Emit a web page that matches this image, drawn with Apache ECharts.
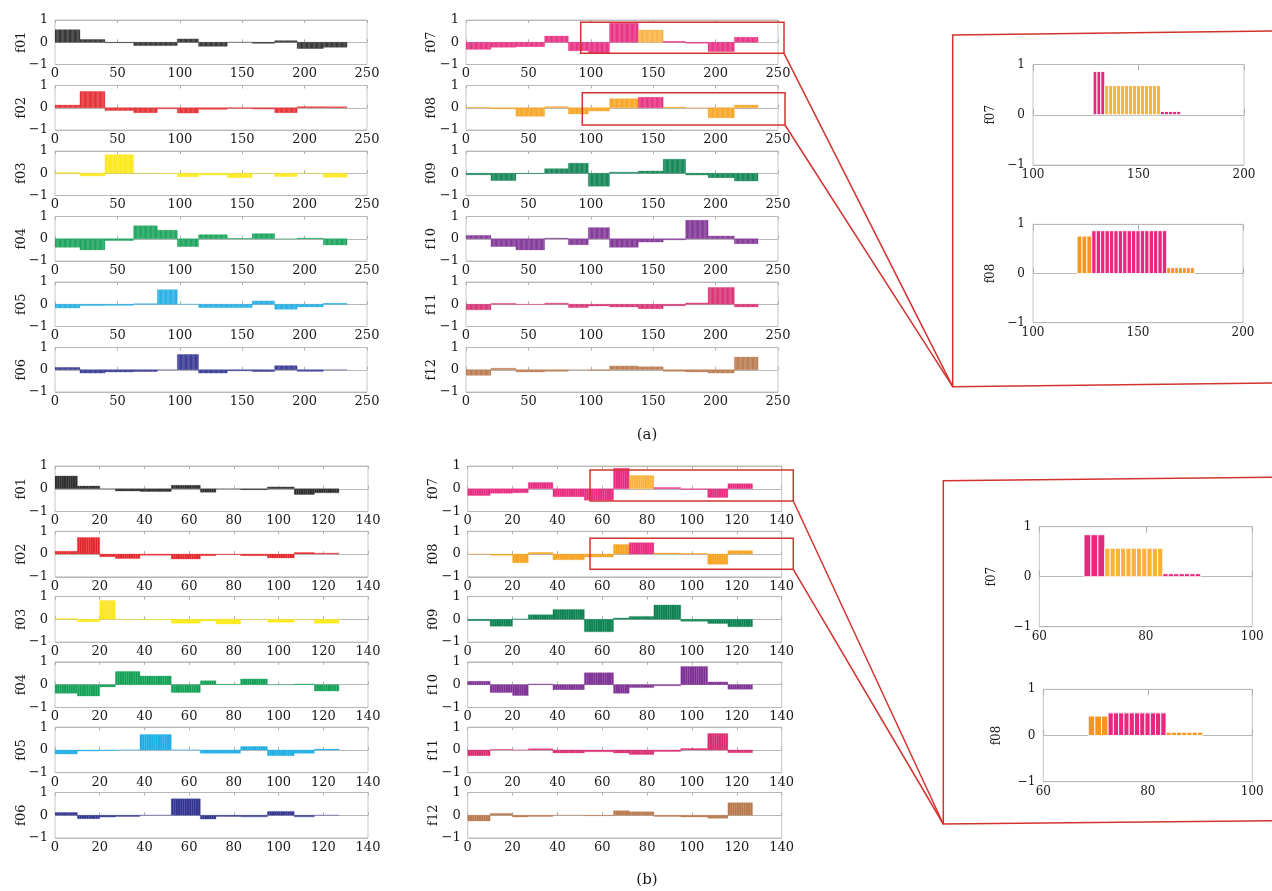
<!DOCTYPE html>
<html><head><meta charset="utf-8">
<script src="https://cdn.jsdelivr.net/npm/echarts@6/dist/echarts.min.js"></script>
<style>html,body{margin:0;padding:0;background:#fff}#c{width:1272px;height:891px}</style>
</head><body><div id="c"></div>
<script>
// ---------------- DATA ----------------
const featureNames = ['f01','f02','f03','f04','f05','f06','f07','f08','f09','f10','f11','f12'];
// block (segment) boundaries along the sample index
const blocksA = [0, 20, 40, 63, 82, 98, 115, 138, 158, 176, 194, 215, 234];
const blocksB = [0, 10, 20, 27, 38, 52, 65, 72, 83, 95, 107, 116, 127];
const ticksA = {min: 0, max: 250, interval: 50};
const ticksB = {min: 0, max: 140, interval: 20};
const yTicks = {min: -1, max: 1, interval: 1};

// panel (a): value of each feature within each block
const a_f01 = [0.56, 0.12, -0.02, -0.15, -0.15, 0.15, -0.18, 0.0, -0.05, 0.07, -0.28, -0.22];
const a_f02 = [0.12, 0.73, -0.12, -0.22, -0.05, -0.24, -0.07, -0.02, -0.06, -0.22, 0.05, 0.04];
const a_f03 = [0.03, -0.12, 0.83, 0.0, -0.01, -0.16, -0.08, -0.2, 0.0, -0.15, 0.0, -0.18];
const a_f04 = [-0.38, -0.5, -0.08, 0.58, 0.38, -0.35, 0.18, 0.02, 0.23, 0.0, 0.03, -0.28];
const a_f05 = [-0.17, -0.06, -0.05, 0.02, 0.65, 0.0, -0.15, -0.15, 0.15, -0.22, -0.12, 0.04];
const a_f06 = [0.1, -0.15, -0.1, -0.08, 0.0, 0.68, -0.15, -0.05, -0.08, 0.18, -0.07, 0.0];
const a_f07 = [-0.32, -0.22, -0.2, 0.28, -0.38, -0.5, 0.85, 0.55, 0.04, -0.04, -0.42, 0.22];
const a_f08 = [0.02, -0.05, -0.38, 0.05, -0.28, -0.15, 0.4, 0.47, 0.03, 0.0, -0.45, 0.12];
const a_f09 = [-0.07, -0.33, -0.02, 0.2, 0.45, -0.58, 0.05, 0.1, 0.63, -0.08, -0.2, -0.35];
const a_f10 = [0.15, -0.35, -0.5, 0.03, -0.27, 0.5, -0.38, -0.15, -0.05, 0.83, 0.12, -0.22];
const a_f11 = [-0.25, 0.03, -0.01, 0.05, -0.15, -0.08, -0.12, -0.2, -0.07, 0.06, 0.75, -0.12];
const a_f12 = [-0.25, 0.07, -0.1, -0.07, 0.0, -0.02, 0.17, 0.13, -0.07, -0.1, -0.15, 0.57];

// panel (b)
const b_f01 = [0.56, 0.12, 0.0, -0.1, -0.12, 0.15, -0.15, 0.0, -0.04, 0.08, -0.25, -0.18];
const b_f02 = [0.12, 0.73, -0.12, -0.2, -0.05, -0.22, -0.07, -0.02, -0.07, -0.17, 0.07, 0.04];
const b_f03 = [0.04, -0.1, 0.83, 0.0, -0.02, -0.17, -0.07, -0.2, 0.0, -0.13, 0.0, -0.17];
const b_f04 = [-0.38, -0.5, -0.1, 0.58, 0.38, -0.35, 0.17, 0.02, 0.25, 0.0, 0.03, -0.28];
const b_f05 = [-0.18, -0.05, -0.03, 0.0, 0.68, 0.0, -0.15, -0.15, 0.15, -0.25, -0.15, 0.04];
const b_f06 = [0.12, -0.15, -0.08, -0.05, 0.0, 0.72, -0.17, -0.05, -0.07, 0.17, -0.07, 0.0];
const b_f07 = [-0.3, -0.2, -0.18, 0.27, -0.35, -0.5, 0.9, 0.58, 0.05, -0.03, -0.38, 0.22];
const b_f08 = [0.0, -0.05, -0.38, 0.07, -0.25, -0.13, 0.42, 0.5, 0.05, 0.03, -0.45, 0.15];
const b_f09 = [-0.06, -0.3, 0.02, 0.2, 0.43, -0.55, 0.06, 0.13, 0.63, -0.08, -0.18, -0.33];
const b_f10 = [0.15, -0.35, -0.48, 0.03, -0.22, 0.52, -0.38, -0.13, -0.05, 0.8, 0.12, -0.2];
const b_f11 = [-0.25, 0.02, 0.0, 0.05, -0.13, -0.08, -0.13, -0.2, -0.07, 0.06, 0.72, -0.12];
const b_f12 = [-0.25, 0.08, -0.08, -0.05, 0.0, -0.02, 0.2, 0.15, -0.05, -0.08, -0.13, 0.55];

// magnified views: segment edges, number of bars in each segment, values, colours
const zoomA_f07_edges = [128.5, 134, 160.4, 170];
const zoomA_f07_counts = [3, 14, 5];
const zoomA_f07_vals = [0.86, 0.58, 0.065];
const zoomA_f07_cols = ['m', 'o', 'm'];
const zoomA_f08_edges = [121, 128, 163.7, 176.8];
const zoomA_f08_counts = [3, 17, 7];
const zoomA_f08_vals = [0.76, 0.87, 0.12];
const zoomA_f08_cols = ['d', 'm', 'd'];
const zoomB_f07_edges = [68.4, 72.3, 83.2, 90.3];
const zoomB_f07_counts = [3, 11, 7];
const zoomB_f07_vals = [0.84, 0.57, 0.06];
const zoomB_f07_cols = ['m', 'o', 'm'];
const zoomB_f08_edges = [68.6, 72.4, 83.5, 90.5];
const zoomB_f08_counts = [3, 11, 7];
const zoomB_f08_vals = [0.42, 0.49, 0.07];
const zoomB_f08_cols = ['d', 'm', 'd'];
const zoomTicksA = {min: 100, max: 200, interval: 50};
const zoomTicksB = {min: 60, max: 100, interval: 20};

// ---------------- STYLE ----------------
const featureColors = ['#2b2b2b','#e3252b','#fde910','#10a055','#1cace4','#2f3190',
                       '#e8287e','#f7a21c','#08804f','#7d2f94','#d9286f','#b8774a'];
const magenta = '#e8287e', lightOrange = '#fbb13c', darkOrange = '#f7961d';
const highlightBlock = 7;
const zoomColorMap = {m: magenta, o: lightOrange, d: darkOrange};
const FONT = 'DejaVu Serif';
const TEXT = '#1a1a1a';
const red = '#d2332f';

const dataA = [a_f01,a_f02,a_f03,a_f04,a_f05,a_f06,a_f07,a_f08,a_f09,a_f10,a_f11,a_f12];
const dataB = [b_f01,b_f02,b_f03,b_f04,b_f05,b_f06,b_f07,b_f08,b_f09,b_f10,b_f11,b_f12];

function blockColor(fi, bi) {
  if (fi === 6 && bi === highlightBlock) return lightOrange;
  if (fi === 7 && bi === highlightBlock) return magenta;
  return featureColors[fi];
}
function expandBlocks(edges, vals, fi) {
  const out = [];
  for (let i = 0; i < vals.length; i++) {
    for (let x = edges[i]; x < edges[i + 1]; x++) {
      out.push({value: [x + 0.5, vals[i], 1], itemStyle: {color: blockColor(fi, i)}});
    }
  }
  return out;
}
function expandZoom(edges, counts, vals, cols) {
  const out = [];
  for (let i = 0; i < vals.length; i++) {
    const w = (edges[i + 1] - edges[i]) / counts[i];
    for (let k = 0; k < counts[i]; k++) {
      out.push({value: [edges[i] + w * (k + 0.5), vals[i], w], itemStyle: {color: zoomColorMap[cols[i]]}});
    }
  }
  return out;
}
function makeRender(strokeMode) {
  return function (params, api) {
    const x = api.value(0), y = api.value(1), w = api.value(2);
    const p0 = api.coord([x - w / 2, 0]);
    const p1 = api.coord([x + w / 2, y]);
    const c = api.visual('color');
    const stroke = strokeMode === 'white' ? '#ffffff' : echarts.color.lift(c, 0.2);
    return {
      type: 'rect',
      shape: {x: Math.min(p0[0], p1[0]), y: Math.min(p0[1], p1[1]),
              width: Math.abs(p1[0] - p0[0]), height: Math.abs(p1[1] - p0[1])},
      style: {fill: c, stroke: stroke, lineWidth: strokeMode === 'white' ? 0.9 : 0.35}
    };
  };
}

const grids = [], xAxes = [], yAxes = [], series = [];
function addPlot(g, xt, name, nameGap, data, strokeMode, opts) {
  const gi = grids.length;
  grids.push({left: g.left, top: g.top, width: g.width, height: g.height, show: true,
              borderColor: '#c6c6c6', borderWidth: 1, containLabel: false});
  const fs = opts.fontSize;
  const xa = {gridIndex: gi, type: 'value', min: xt.min, max: xt.max, interval: xt.interval,
    axisLine: {show: false}, splitLine: {show: false},
    axisTick: {show: true, inside: true, length: opts.tickLen, lineStyle: {color: '#b0b0b0'}},
    axisLabel: {show: true, fontFamily: FONT, fontSize: fs, color: TEXT, margin: opts.xMargin,
                showMinLabel: true, showMaxLabel: true, hideOverlap: false}};
  xAxes.push(xa);
  xAxes.push(Object.assign({}, xa, {position: 'top', axisLabel: {show: false}}));
  yAxes.push({gridIndex: gi, type: 'value', min: yTicks.min, max: yTicks.max, interval: yTicks.interval,
    axisLine: {show: false}, axisTick: {show: false},
    splitLine: {show: true, lineStyle: {color: '#b8b8b8', width: 1}},
    axisLabel: {fontFamily: FONT, fontSize: fs, color: TEXT, margin: opts.yMargin,
                formatter: v => (v < 0 ? '\u2212' + Math.abs(v) : String(v))},
    name: name, nameLocation: 'middle', nameGap: nameGap, nameRotate: 90, nameMoveOverlap: false,
    nameTextStyle: {fontFamily: FONT, fontSize: fs, color: TEXT}});
  series.push({type: 'custom', xAxisIndex: gi * 2, yAxisIndex: gi, clip: true,
    renderItem: makeRender(strokeMode), data: data, animation: false, silent: true});
}

const mainOpts = {fontSize: 13, tickLen: 3, xMargin: 3, yMargin: 7};
const topsA = [20, 85.5, 151, 216.5, 282, 347.5];
const topsB = [466, 531.3, 596.6, 661.9, 727.2, 792.5];
for (let i = 0; i < 12; i++) {
  const col = i < 6 ? 0 : 1, row = i % 6;
  addPlot({left: col ? 466 : 55, top: topsA[row], width: 312, height: 44.5}, ticksA,
          featureNames[i], col ? 28 : 27, expandBlocks(blocksA, dataA[i], i), 'dark', mainOpts);
}
for (let i = 0; i < 12; i++) {
  const col = i < 6 ? 0 : 1, row = i % 6;
  addPlot({left: col ? 467.7 : 55, top: topsB[row], width: col ? 314 : 313, height: 45.5}, ticksB,
          featureNames[i], col ? 28 : 27, expandBlocks(blocksB, dataB[i], i), 'dark', mainOpts);
}
const zoomOpts = {fontSize: 12, tickLen: 6, xMargin: 4, yMargin: 8};
addPlot({left: 1033, top: 64.5, width: 211, height: 100.5}, zoomTicksA, 'f07', 36,
        expandZoom(zoomA_f07_edges, zoomA_f07_counts, zoomA_f07_vals, zoomA_f07_cols), 'white', zoomOpts);
addPlot({left: 1033, top: 224.3, width: 210, height: 98.4}, zoomTicksA, 'f08', 36,
        expandZoom(zoomA_f08_edges, zoomA_f08_counts, zoomA_f08_vals, zoomA_f08_cols), 'white', zoomOpts);
addPlot({left: 1039.3, top: 526.7, width: 213, height: 100}, zoomTicksB, 'f07', 41,
        expandZoom(zoomB_f07_edges, zoomB_f07_counts, zoomB_f07_vals, zoomB_f07_cols), 'white', zoomOpts);
addPlot({left: 1043.3, top: 689.3, width: 209, height: 92.4}, zoomTicksB, 'f08', 40,
        expandZoom(zoomB_f08_edges, zoomB_f08_counts, zoomB_f08_vals, zoomB_f08_cols), 'white', zoomOpts);

const lineStyle = {stroke: red, lineWidth: 1.5, fill: null};
const graphic = [
  {type: 'rect', shape: {x: 580.7, y: 22.3, width: 203.3, height: 31}, style: lineStyle, z: 100},
  {type: 'rect', shape: {x: 582.3, y: 92.7, width: 202.7, height: 32.3}, style: lineStyle, z: 100},
  {type: 'polyline', shape: {points: [[1285, 30.8], [952.7, 35], [952.7, 386.7], [1285, 382.8]]}, style: lineStyle, z: 100},
  {type: 'line', shape: {x1: 784, y1: 53.3, x2: 952.7, y2: 386.7}, style: lineStyle, z: 100},
  {type: 'line', shape: {x1: 785, y1: 125, x2: 952.7, y2: 386.7}, style: lineStyle, z: 100},
  {type: 'rect', shape: {x: 590, y: 470, width: 203.3, height: 31}, style: lineStyle, z: 100},
  {type: 'rect', shape: {x: 590, y: 538.3, width: 203.3, height: 31}, style: lineStyle, z: 100},
  {type: 'polyline', shape: {points: [[1285, 477.2], [943.3, 480.7], [943.3, 824], [1285, 820.6]]}, style: lineStyle, z: 100},
  {type: 'line', shape: {x1: 793.3, y1: 501, x2: 943.3, y2: 824}, style: lineStyle, z: 100},
  {type: 'line', shape: {x1: 793.3, y1: 569.3, x2: 943.3, y2: 824}, style: lineStyle, z: 100},
  {type: 'text', x: 647, y: 435, z: 100, style: {text: '(a)', font: '15px "DejaVu Serif"', fill: TEXT,
    align: 'center', verticalAlign: 'middle', textAlign: 'center', textVerticalAlign: 'middle'}},
  {type: 'text', x: 647, y: 880, z: 100, style: {text: '(b)', font: '15px "DejaVu Serif"', fill: TEXT,
    align: 'center', verticalAlign: 'middle', textAlign: 'center', textVerticalAlign: 'middle'}}
];

const chart = echarts.init(document.getElementById('c'), null, {renderer: 'canvas'});
chart.setOption({
  animation: false,
  backgroundColor: '#ffffff',
  grid: grids, xAxis: xAxes, yAxis: yAxes, series: series, graphic: graphic
});
</script>
</body></html>
